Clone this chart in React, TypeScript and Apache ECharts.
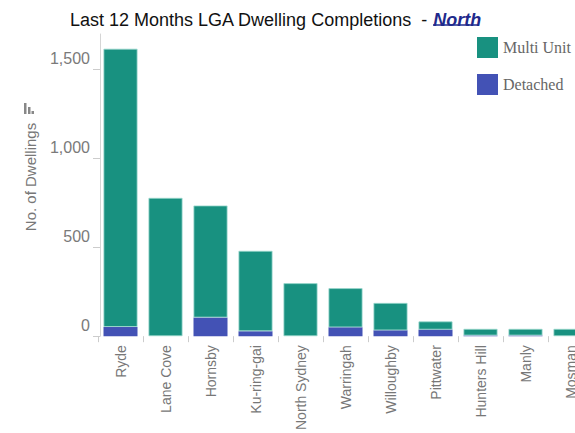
import React, { useEffect, useRef } from "react";
import * as echarts from "echarts";

const categories = [
  "Ryde",
  "Lane Cove",
  "Hornsby",
  "Ku-ring-gai",
  "North Sydney",
  "Warringah",
  "Willoughby",
  "Pittwater",
  "Hunters Hill",
  "Manly",
  "Mosman",
];
const detached = [52, 0, 105, 28, 0, 50, 33, 37, 4, 4, 0];
const multiUnit = [1565, 778, 630, 452, 298, 220, 154, 46, 37, 37, 41];
const yTicks = [0, 500, 1000, 1500];

const TEAL = "#189180";
const BLUE = "#4352b5";
const SANS = "'Liberation Sans', Arial, sans-serif";

export default function App() {
  const ref = useRef<HTMLDivElement>(null);
  useEffect(() => {
    if (!ref.current) return;
    const chart = echarts.init(ref.current, undefined, { renderer: "svg" });
    chart.setOption({
      animation: false,
      backgroundColor: "#ffffff",
      title: {
        text: "{a|Last 12 Months LGA Dwelling Completions  - }{b|North}",
        left: 65,
        top: 6,
        textStyle: {
          fontWeight: "normal",
          rich: {
            a: { fontSize: 18, color: "#111111", fontFamily: SANS, fontWeight: "normal" },
            b: {
              fontSize: 18,
              color: "#1f2a8c",
              fontFamily: SANS,
              fontWeight: "bold",
              fontStyle: "italic",
            },
          },
        },
      },
      legend: {
        orient: "vertical",
        left: 472,
        top: 32,
        itemWidth: 21,
        itemHeight: 21,
        itemGap: 16,
        icon: "rect",
        data: ["Multi Unit", "Detached"],
        itemStyle: { borderWidth: 0 },
        textStyle: {
          fontFamily: "'Liberation Serif', 'Times New Roman', serif",
          fontSize: 16,
          color: "#666666",
        },
      },
      grid: { left: 98, top: 34, right: 7, bottom: 93, containLabel: false },
      xAxis: {
        type: "category",
        data: categories,
        axisLine: { show: false },
        axisTick: {
          show: true,
          interval: 0,
          length: 6,
          lineStyle: { color: "#cccccc" },
        },
        axisLabel: {
          interval: 0,
          rotate: 90,
          margin: 9,
          fontSize: 14,
          color: "#777777",
          fontFamily: SANS,
        },
      },
      yAxis: {
        type: "value",
        min: 0,
        max: 1700,
        interval: 500,
        offset: -2,
        splitLine: { show: false },
        axisLine: { show: true, lineStyle: { color: "#d5d5d5" } },
        axisTick: {
          show: true,
          length: 7,
          customValues: yTicks,
          lineStyle: { color: "#cccccc" },
        },
        axisLabel: {
          customValues: yTicks,
          fontSize: 16,
          color: "#7a7a7a",
          fontFamily: SANS,
          margin: 10,
          verticalAlign: "bottom",
          padding: [0, 0, 3, 0],
          formatter: (v: number) => v.toLocaleString("en-US"),
        },
      },
      series: [
        {
          name: "Detached",
          type: "bar",
          stack: "total",
          barWidth: 34,
          data: detached,
          itemStyle: { color: BLUE, borderWidth: 0 },
        },
        {
          name: "Multi Unit",
          type: "bar",
          stack: "total",
          barWidth: 34,
          data: multiUnit,
          itemStyle: { color: TEAL, borderColor: "#9ad8cd", borderWidth: 0.8 },
        },
      ],
      graphic: [
        {
          type: "line",
          shape: { x1: 433, y1: 25, x2: 479, y2: 25 },
          style: { stroke: "#1f2a8c", lineWidth: 1.5 },
        },
        {
          type: "text",
          x: 30,
          y: 177,
          rotation: Math.PI / 2,
          style: {
            text: "No. of Dwellings",
            fontSize: 15,
            fontFamily: SANS,
            fill: "#777777",
            align: "center",
            verticalAlign: "middle",
          },
        },
        { type: "rect", shape: { x: 24, y: 103, width: 2.5, height: 11 }, style: { fill: "#888888" } },
        { type: "rect", shape: { x: 28, y: 107, width: 2.5, height: 7 }, style: { fill: "#888888" } },
        { type: "rect", shape: { x: 31.5, y: 111, width: 2.5, height: 3 }, style: { fill: "#888888" } },
      ],
    });
    return () => chart.dispose();
  }, []);
  return (
    <div
      style={{
        position: "absolute",
        left: 0,
        top: 0,
        width: 575,
        height: 433,
        overflow: "hidden",
        background: "#fff",
      }}
    >
      <div ref={ref} style={{ width: 600, height: 433 }} />
    </div>
  );
}
